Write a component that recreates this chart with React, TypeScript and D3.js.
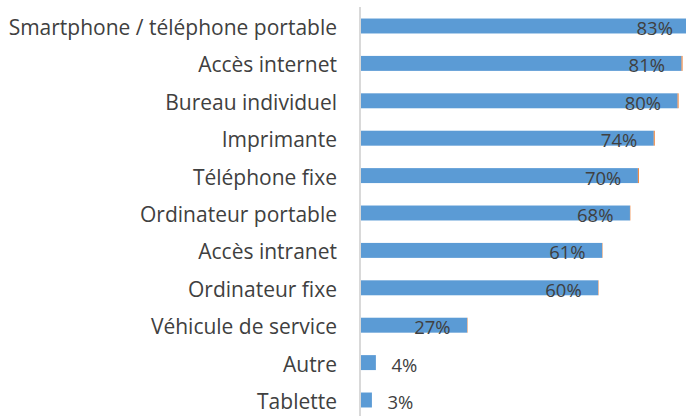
import React, { useRef, useEffect } from 'react';
import * as d3 from 'd3';

const categories = [
  'Smartphone / téléphone portable',
  'Accès internet',
  'Bureau individuel',
  'Imprimante',
  'Téléphone fixe',
  'Ordinateur portable',
  'Accès intranet',
  'Ordinateur fixe',
  'Véhicule de service',
  'Autre',
  'Tablette',
];
const values = [83, 81, 80, 74, 70, 68, 61, 60, 27, 4, 3];
// thin second series that shows as an orange edge at the end of each bar
const edgeValues = [0.25, 0.25, 0.25, 0.25, 0.25, 0.1, 0.1, 0.1, 0.1, 0, 0];

export default function App() {
  const svgRef = useRef<SVGSVGElement>(null);

  useEffect(() => {
    if (!svgRef.current) return;
    const svg = d3.select(svgRef.current);
    svg.selectAll('*').remove();

    const axisX = 360;
    const font = '"Open Sans", Lato, sans-serif';

    const x = d3.scaleLinear().domain([0, 83]).range([axisX, 689.5]);
    const y = d3.scaleBand<string>()
      .domain(categories)
      .range([7.3, 418.7])
      .paddingInner(0.6)
      .paddingOuter(0.3);

    const data = categories.map((c, i) => ({ cat: c, v: values[i], e: edgeValues[i] }));

    svg.append('g')
      .selectAll('rect')
      .data(data)
      .enter().append('rect')
      .attr('x', axisX)
      .attr('y', d => y(d.cat)!)
      .attr('width', d => x(d.v) - axisX)
      .attr('height', y.bandwidth())
      .attr('fill', '#5b9bd5');

    svg.append('g')
      .selectAll('rect')
      .data(data.filter(d => d.e > 0))
      .enter().append('rect')
      .attr('x', d => x(d.v))
      .attr('y', d => y(d.cat)!)
      .attr('width', d => x(d.v + d.e) - x(d.v))
      .attr('height', y.bandwidth())
      .attr('fill', '#ed7d31');

    // axis line
    svg.append('line')
      .attr('x1', axisX).attr('x2', axisX)
      .attr('y1', 7).attr('y2', 416)
      .attr('stroke', '#d9d9d9')
      .attr('stroke-width', 2);

    // category labels
    svg.append('g')
      .selectAll('text')
      .data(data)
      .enter().append('text')
      .attr('x', axisX - 23)
      .attr('y', d => y(d.cat)! + y.bandwidth() / 2 + 1)
      .attr('text-anchor', 'end')
      .attr('dominant-baseline', 'central')
      .attr('font-family', font)
      .attr('font-size', '21px')
      .attr('fill', '#404040')
      .text(d => d.cat);

    // value labels
    svg.append('g')
      .selectAll('text')
      .data(data)
      .enter().append('text')
      .attr('x', d => (d.v < 10 ? x(d.v) + 15.5 : x(d.v) - 16.5))
      .attr('y', d => y(d.cat)! + y.bandwidth() / 2 + 1.5)
      .attr('text-anchor', d => (d.v < 10 ? 'start' : 'end'))
      .attr('dominant-baseline', 'central')
      .attr('font-family', font)
      .attr('font-size', '18.5px')
      .attr('fill', '#404040')
      .text(d => `${d.v}%`);
  }, []);

  return (
    <svg
      ref={svgRef}
      width={686}
      height={416}
      style={{ position: 'absolute', left: 0, top: 0, background: '#fff' }}
    />
  );
}
